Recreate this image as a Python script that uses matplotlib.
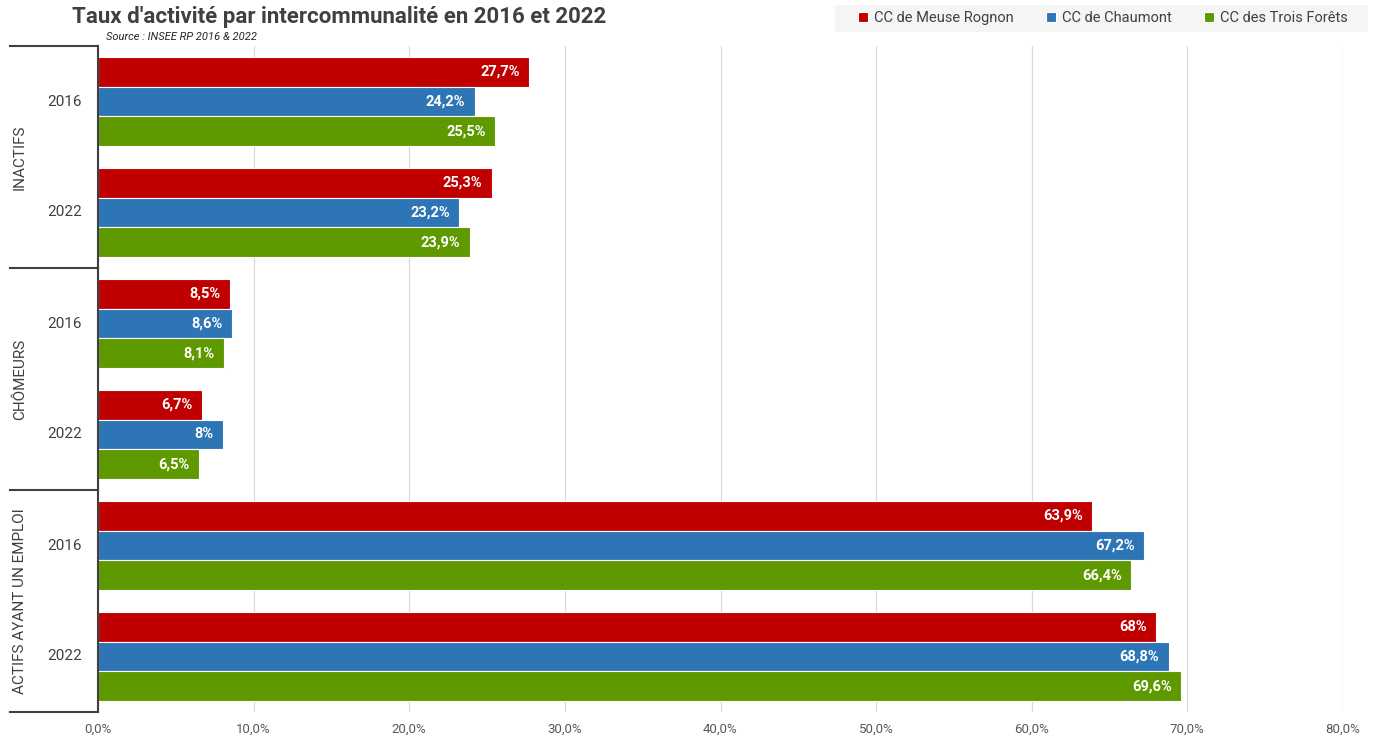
import matplotlib
matplotlib.use("Agg")
import matplotlib.pyplot as plt
from matplotlib.patches import Rectangle

plt.rcParams['font.family'] = ['Roboto', 'DejaVu Sans']

categories = ["INACTIFS", "CHÔMEURS", "ACTIFS AYANT UN EMPLOI"]
years = ["2016", "2022"]
series = ["CC de Meuse Rognon", "CC de Chaumont", "CC des Trois Forêts"]
colors = ["#C00000", "#2E75B6", "#5F9900"]

# values per series, ordered category by category, then year
meuse_rognon = [27.7, 25.3, 8.5, 6.7, 63.9, 68.0]
chaumont = [24.2, 23.2, 8.6, 8.0, 67.2, 68.8]
trois_forets = [25.5, 23.9, 8.1, 6.5, 66.4, 69.6]
values = [meuse_rognon, chaumont, trois_forets]

xticks = [0, 10, 20, 30, 40, 50, 60, 70, 80]

W, H = 1375, 739
fig = plt.figure(figsize=(W / 100, H / 100), dpi=100)
x0, x1, y0, y1 = 98, 1343, 46, 712
ax = fig.add_axes([x0 / W, 1 - y1 / H, (x1 - x0) / W, (y1 - y0) / H])

n_slots = len(categories) * len(years)
bar_h = 0.27


def fmt(v):
    if abs(v - round(v)) < 1e-9:
        return f"{int(round(v))}%"
    return f"{v:.1f}%".replace(".", ",")


for s, (vals, col) in enumerate(zip(values, colors)):
    ys = [i + 0.5 + (s - 1) * bar_h for i in range(n_slots)]
    ax.barh(ys, vals, height=bar_h, color=col, edgecolor="white", linewidth=0.8,
            label=series[s])
    for y, v in zip(ys, vals):
        ax.text(v - 0.6, y, fmt(v), ha="right", va="center", color="white",
                fontsize=10.5, fontweight="bold")

ax.set_xlim(0, 80)
ax.set_ylim(n_slots, 0)
ax.set_xticks(xticks)
ax.set_xticklabels([f"{t:.1f}%".replace(".", ",") for t in xticks],
                   fontsize=9.5, color="#595959")
ax.tick_params(axis="x", length=0, pad=8)
ax.set_yticks([])
ax.grid(axis="x", color="#D9D9D9", linewidth=0.9)
ax.set_axisbelow(True)
for sp in ["top", "right", "bottom"]:
    ax.spines[sp].set_visible(False)
ax.spines["left"].set_color("#404040")
ax.spines["left"].set_linewidth(1.5)

# year labels and category brackets on the left
left = -(x0 - 10) / (x1 - x0)
trans = ax.get_yaxis_transform()
for i in range(n_slots):
    ax.text(-(x0 - 82) / (x1 - x0), i + 0.5, years[i % 2], transform=trans,
            ha="right", va="center", fontsize=11, color="#404040")
for c in range(len(categories) + 1):
    ax.plot([left, 0], [2 * c, 2 * c], transform=trans, color="#404040",
            linewidth=1.5, clip_on=False)
for c, name in enumerate(categories):
    ax.text(-(x0 - 20) / (x1 - x0), 2 * c + 1, name, transform=trans,
            rotation=90, ha="center", va="center", fontsize=11, color="#404040")

fig.text(72 / W, 1 - 17 / H, "Taux d'activité par intercommunalité en 2016 et 2022",
         fontsize=16, fontweight="bold", color="#404040", va="center")
fig.text(106 / W, 1 - 37 / H, "Source : INSEE RP 2016 & 2022", fontsize=8,
         style="italic", color="#262626", va="center")

# legend strip in the top right corner
fig.patches.append(Rectangle((835 / W, 1 - 32 / H), 533 / W, 27 / H,
                             transform=fig.transFigure, facecolor="#F5F5F5",
                             edgecolor="none", zorder=-1))
leg = fig.legend(loc="center", bbox_to_anchor=(1103 / W, 1 - 18 / H),
                 ncol=3, frameon=False,
                 fontsize=10.5, handlelength=0.7, handleheight=0.7,
                 handletextpad=0.4, columnspacing=2.2)
for t in leg.get_texts():
    t.set_color("#404040")

fig.savefig("out.png", dpi=100)
